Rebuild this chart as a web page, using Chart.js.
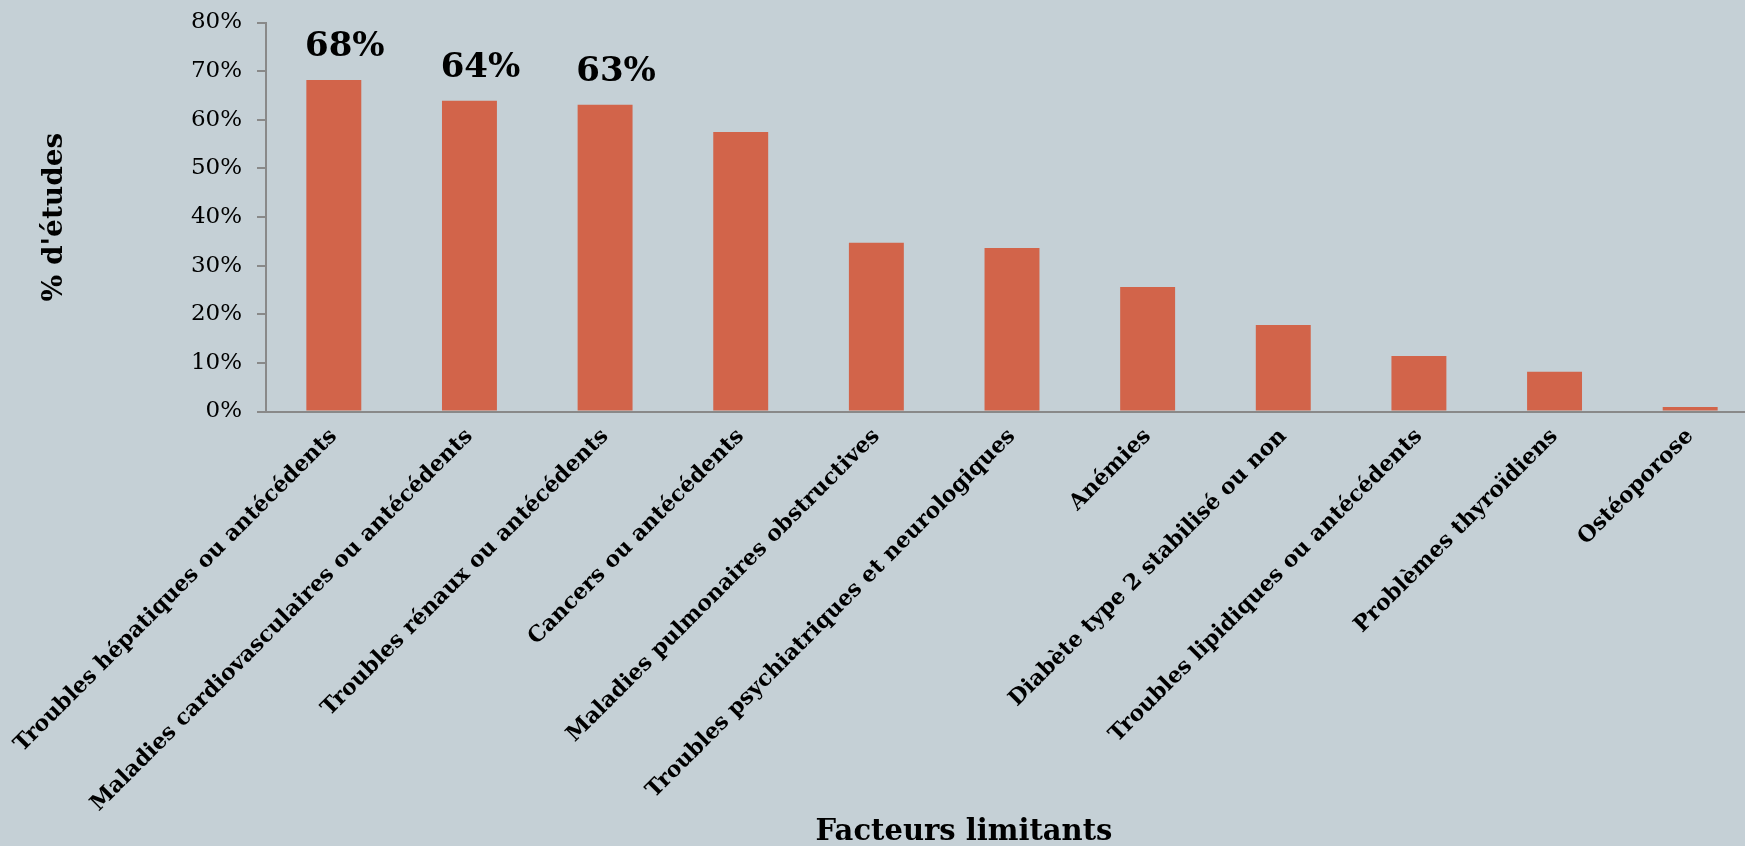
<!DOCTYPE html>
<html>
<head>
<meta charset="utf-8">
<script src="https://cdn.jsdelivr.net/npm/chart.js@4/dist/chart.umd.min.js"></script>
<style>
  html, body { margin: 0; padding: 0; background: #C5D0D6; overflow: hidden; }
</style>
</head>
<body>
<canvas id="facteursChart" width="1758" height="846"></canvas>
<script>
// Data
const categories = [
    'Troubles hépatiques ou antécédents',
    'Maladies cardiovasculaires ou antécédents',
    'Troubles rénaux ou antécédents',
    'Cancers ou antécédents',
    'Maladies pulmonaires obstructives',
    'Troubles psychiatriques et neurologiques',
    'Anémies',
    'Diabète type 2 stabilisé ou non',
    'Troubles lipidiques ou antécédents',
    'Problèmes thyroïdiens',
    'Ostéoporose'
];
const percentEtudes = [68.2, 63.9, 63.1, 57.5, 34.7, 33.6, 25.6, 17.8, 11.4, 8.2, 0.9];
const valueLabels = ['68%', '64%', '63%', '', '', '', '', '', '', '', ''];
const yTicks = [0, 10, 20, 30, 40, 50, 60, 70, 80];

const serif = '"DejaVu Serif", "Liberation Serif", serif';
const axisGrey = '#898989';

// Value labels above the first bars
const valueLabelPlugin = {
    id: 'valueLabels',
    afterDatasetsDraw(chart) {
        const ctx = chart.ctx;
        const bars = chart.getDatasetMeta(0).data;
        ctx.save();
        ctx.font = 'bold 34px ' + serif;
        ctx.fillStyle = '#000';
        ctx.textAlign = 'center';
        ctx.textBaseline = 'alphabetic';
        bars.forEach(function (bar, i) {
            if (valueLabels[i]) {
                ctx.fillText(valueLabels[i], bar.x + 11, bar.y - 24);
            }
        });
        ctx.restore();
    }
};

// X axis title, sits a bit left of the axis centre
const xTitlePlugin = {
    id: 'xTitle',
    afterDraw(chart) {
        const ctx = chart.ctx;
        ctx.save();
        ctx.font = 'bold 29px ' + serif;
        ctx.fillStyle = '#000';
        ctx.textAlign = 'center';
        ctx.textBaseline = 'alphabetic';
        ctx.fillText('Facteurs limitants', 964, 840);
        ctx.restore();
    }
};

var ctx = document.getElementById('facteursChart').getContext('2d');
var facteursChart = new Chart(ctx, {
    type: 'bar',
    data: {
        labels: categories,
        datasets: [{
            label: "% d'études",
            data: percentEtudes,
            backgroundColor: '#D2644A',
            borderWidth: 0,
            categoryPercentage: 1,
            barPercentage: 0.405
        }]
    },
    options: {
        responsive: false,
        animation: false,
        devicePixelRatio: 1,
        layout: { padding: { top: 22.5, right: 0, bottom: 0, left: 0 } },
        plugins: {
            legend: { display: false },
            tooltip: { enabled: false }
        },
        scales: {
            x: {
                afterFit: function (scale) {
                    scale.height = 434.5;
                    scale.paddingLeft = 0;
                    scale.paddingRight = 0;
                },
                grid: { display: true, drawOnChartArea: false, drawTicks: false },
                border: { display: true, color: axisGrey, width: 2 },
                ticks: {
                    autoSkip: false,
                    minRotation: 45,
                    maxRotation: 45,
                    padding: 12,
                    color: '#000',
                    font: { family: serif, size: 22, weight: 'bold' }
                }
            },
            y: {
                min: 0,
                max: 80,
                afterFit: function (scale) {
                    scale.width = 266;
                    scale.paddingTop = 0;
                    scale.paddingBottom = 0;
                },
                afterBuildTicks: function (scale) {
                    scale.ticks = yTicks.map(v => ({ value: v }));
                },
                grid: {
                    drawOnChartArea: false,
                    drawTicks: true,
                    tickLength: 9,
                    color: axisGrey,
                    lineWidth: 2
                },
                border: { display: true, color: axisGrey, width: 2 },
                ticks: {
                    padding: 15,
                    color: '#000',
                    font: { family: serif, size: 23 },
                    callback: function (value) { return value + '%'; }
                },
                title: {
                    display: true,
                    text: "% d'études",
                    color: '#000',
                    font: { family: serif, size: 28, weight: 'bold' },
                    padding: { top: 38, bottom: 0 }
                }
            }
        }
    },
    plugins: [valueLabelPlugin, xTitlePlugin]
});
</script>
</body>
</html>
